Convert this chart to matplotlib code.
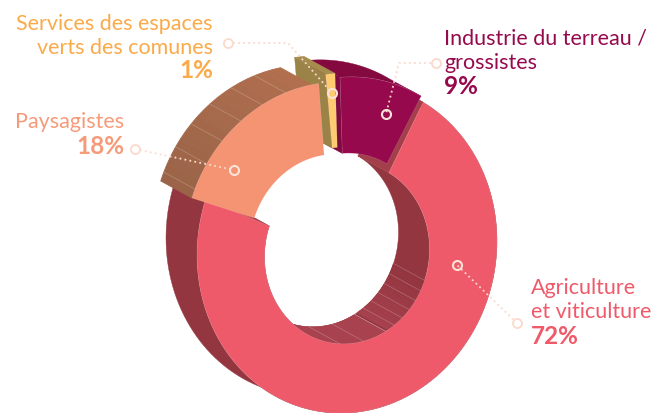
import numpy as np
import matplotlib
matplotlib.use("Agg")
import matplotlib.pyplot as plt
from matplotlib.patches import Polygon

categories = ["Agriculture\net viticulture", "Paysagistes", "Services des espaces\nverts des comunes", "Industrie du terreau /\ngrossistes"]
values = [72, 18, 1, 9]
value_labels = ["72%", "18%", "1%", "9%"]
text_colors = ["#EE5A6A", "#F59B7A", "#FBAA4A", "#960A4D"]
face_colors = ["#EE5A6A", "#F49472", "#FFCB70", "#960A4D"]

W, H = 659, 413
CX, CY = 347, 248
RX, RY, SK = 150, 165, -7
INNER = 0.55
DEPTH = np.array([-31, -17])
START = -59.5
offsets = [(0, 0), (-14, -1), (-7, -10), (-2, -6)]
inner_offsets = [(0, 5), (-15, -3), (-7, -10), (-2, -4)]

fig = plt.figure(figsize=(W / 100, H / 100), dpi=100)
ax = fig.add_axes([0, 0, 1, 1])
ax.set_xlim(0, W)
ax.set_ylim(H, 0)
ax.axis("off")


def pt(t, r, off=(0, 0)):
    a = np.radians(t)
    return np.column_stack([CX + off[0] + r * RX * np.cos(a),
                            CY + off[1] + r * (RY * np.sin(a) + SK * np.cos(a))])


def blend(c1, c2, f):
    a = np.array(matplotlib.colors.to_rgb(c1))
    b = np.array(matplotlib.colors.to_rgb(c2))
    return a + (b - a) * f


def wall(t0, t1, r, off, c0, c1, z, seams=0, seam_from=0.0, seam_to=1.0):
    ts = np.linspace(t0, t1, 120)
    p = pt(ts, r, off)
    if c0 == c1:
        poly = np.vstack([p, (p + DEPTH)[::-1]])
        ax.add_patch(Polygon(poly, closed=True, fc=c0, ec=c0, lw=0.3, zorder=z))
    else:
        step = 6
        for i in range(0, len(ts) - step, step):
            col = blend(c0, c1, i / (len(ts) - 1))
            a, b = p[i:i + step + 1], (p[i:i + step + 1] + DEPTH)[::-1]
            ax.add_patch(Polygon(np.vstack([a, b]), closed=True, fc=col, ec=col, lw=0.6, zorder=z))
    if seams:
        for f in np.linspace(seam_from, seam_to, seams):
            s = pt(np.array([t0 + (t1 - t0) * f]), r, off)[0]
            ax.plot([s[0], s[0] + DEPTH[0]], [s[1], s[1] + DEPTH[1]],
                    color="white", lw=0.4, alpha=0.3, zorder=z + 0.1)


def cap(t, off, ioff, col, z):
    a = pt(np.array([t]), 1, off)[0]
    b = pt(np.array([t]), INNER, ioff)[0]
    ax.add_patch(Polygon([a, b, b + DEPTH, a + DEPTH], closed=True, fc=col, ec=col, lw=0.3, zorder=z))


def face(t0, t1, off, ioff, col, z):
    ts = np.linspace(t0, t1, 200)
    poly = np.vstack([pt(ts, 1, off), pt(ts[::-1], INNER, ioff)])
    ax.add_patch(Polygon(poly, closed=True, fc=col, ec=(1, 1, 1, 0.2), lw=0.4, zorder=z))


bounds = START + np.concatenate([[0], np.cumsum(values)]) * 3.6

# Agriculture
t0, t1 = bounds[0], bounds[1]
io = inner_offsets[0]
wall(t0, t1, INNER, io, "#93363F", "#93363F", 1)
wall(20, 62, INNER, io, "#93363F", "#A8424F", 1.2, seams=7)
wall(62, 122, INNER, io, "#A8424F", "#A8424F", 1.2, seams=3, seam_to=0.55)
wall(t0, t1, 1, offsets[0], "#93363F", "#93363F", 1.3)
cap(t0, offsets[0], io, "#A23F4B", 1.5)
cap(t1, offsets[0], io, "#AC4352", 1.5)
face(t0, t1, offsets[0], io, face_colors[0], 2)

# Industry
t0, t1 = bounds[3], bounds[4]
wall(t0, t1, 1, offsets[3], "#84093F", "#84093F", 3)
cap(t0, offsets[3], inner_offsets[3], "#7F0A40", 3.5)
face(t0, t1, offsets[3], inner_offsets[3], face_colors[3], 4)

# Services
t0, t1 = bounds[2], bounds[3]
wall(t0, t1, 1, offsets[2], "#A68D4E", "#A68D4E", 5)
cap(t0, offsets[2], inner_offsets[2], "#9B8348", 5.5)
face(t0, t1, offsets[2], inner_offsets[2], face_colors[2], 6)

# Paysagistes
t0, t1 = bounds[1], bounds[2]
wall(t0, t1, 1, offsets[1], "#9B6448", "#B3704F", 7, seams=6, seam_from=0.05, seam_to=0.8)
face(t0, t1, offsets[1], inner_offsets[1], face_colors[1], 8)

# Leaders
leaders = [
    ([517, 457], [323, 265]),
    ([135, 234], [149, 170]),
    ([228, 288, 332], [43, 43, 93]),
    ([436, 399, 386], [63, 63, 114]),
]
for xs, ys in leaders:
    ax.plot(xs, ys, color="#FBD9CB", lw=1.3, ls=(0, (1, 1.8)), zorder=9)
    ax.plot(xs[0], ys[0], "o", ms=6.5, mfc="white", mec="#FBD9CB", mew=1.3, zorder=10)
    ax.plot(xs[-1], ys[-1], "o", ms=6.5, mfc="none", mec="#FBE3D8", mew=1.5, zorder=10)

# Labels
FONT = "Lato"
FS = 15.5
VS = 17.5
LS = 1.29
ax.text(531, 300, categories[0], color=text_colors[0], fontsize=FS, family=FONT, va="center", ha="left", linespacing=LS)
ax.text(531, 336, value_labels[0], color=text_colors[0], fontsize=VS, family=FONT, weight="bold", va="center", ha="left")
ax.text(124, 122, categories[1], color=text_colors[1], fontsize=FS, family=FONT, va="center", ha="right")
ax.text(124, 147, value_labels[1], color=text_colors[1], fontsize=VS, family=FONT, weight="bold", va="center", ha="right")
ax.text(213, 36, categories[2], color=text_colors[2], fontsize=FS, family=FONT, va="center", ha="right", linespacing=LS)
ax.text(213, 71, value_labels[2], color=text_colors[2], fontsize=VS, family=FONT, weight="bold", va="center", ha="right")
ax.text(444, 51, categories[3], color=text_colors[3], fontsize=FS, family=FONT, va="center", ha="left", linespacing=LS)
ax.text(444, 87, value_labels[3], color=text_colors[3], fontsize=VS, family=FONT, weight="bold", va="center", ha="left")

fig.savefig("out.png", dpi=100)
